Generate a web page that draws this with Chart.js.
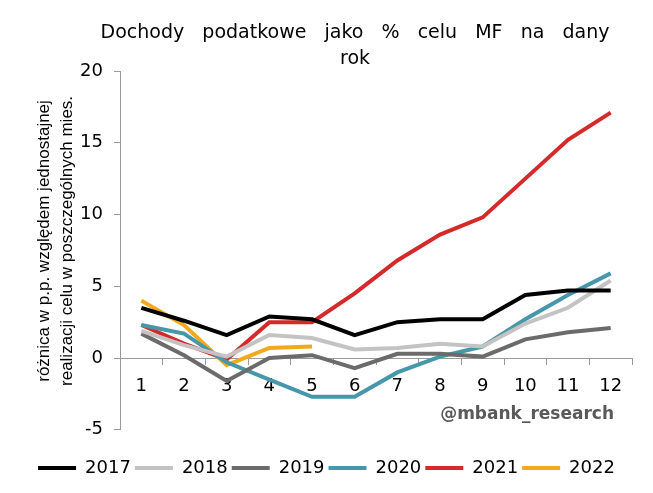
<!DOCTYPE html>
<html>
<head>
<meta charset="utf-8">
<script src="https://cdn.jsdelivr.net/npm/chart.js@4"></script>
<style>
  html, body { margin: 0; padding: 0; background: #fff; }
  #wrap { width: 653px; height: 493px; }
</style>
</head>
<body>
<div id="wrap"><canvas id="mainChart"></canvas></div>
<script>
// months 1..12
const months = ['1', '2', '3', '4', '5', '6', '7', '8', '9', '10', '11', '12'];

// p.p. difference vs uniform realisation of the MF target
const y2017 = [3.5, 2.6, 1.6, 2.9, 2.7, 1.6, 2.5, 2.7, 2.7, 4.4, 4.7, 4.7];
const y2018 = [1.9, 0.9, 0.1, 1.6, 1.4, 0.6, 0.7, 1.0, 0.8, 2.4, 3.5, 5.4];
const y2019 = [1.7, 0.2, -1.6, 0.0, 0.2, -0.7, 0.3, 0.3, 0.1, 1.3, 1.8, 2.1];
const y2020 = [2.3, 1.7, -0.3, -1.5, -2.7, -2.7, -1.0, 0.1, 0.8, 2.7, 4.4, 5.9];
const y2021 = [2.3, 1.0, -0.1, 2.5, 2.5, 4.5, 6.8, 8.6, 9.8, 12.5, 15.2, 17.1];
const y2022 = [4.0, 2.3, -0.5, 0.7, 0.8];

const yTicks = [-5, 0, 5, 10, 15, 20];

const seriesNames = ['2017', '2018', '2019', '2020', '2021', '2022'];
const seriesColors = ['#000000', '#c3c3c3', '#6b6b6b', '#4797aa', '#d42a2a', '#f4a81c'];
const seriesData = [y2017, y2018, y2019, y2020, y2021, y2022];

const titleLines = ['Dochody   podatkowe   jako   %   celu   MF   na   dany', 'rok'];

// title + watermark drawn by hand so they can sit where the original has them
const extras = {
    id: 'extras',
    afterDraw(chart) {
        const c = chart.ctx;
        c.save();
        c.fillStyle = '#000';
        c.font = '19px "DejaVu Sans"';
        c.textAlign = 'center';
        c.textBaseline = 'middle';
        c.fillText(titleLines[0], 355, 33);
        c.fillText(titleLines[1], 355, 59);

        c.font = 'bold 17px "DejaVu Sans"';
        c.fillStyle = '#595959';
        c.textAlign = 'right';
        c.textBaseline = 'alphabetic';
        c.fillText('@mbank_research', 614, 419);
        c.restore();
    }
};

const ctx = document.getElementById('mainChart');
new Chart(ctx, {
    type: 'line',
    data: {
        labels: months,
        datasets: seriesNames.map((name, i) => ({
            label: name,
            data: seriesData[i],
            borderColor: seriesColors[i],
            backgroundColor: seriesColors[i],
            borderWidth: 4,
            pointRadius: 0,
            tension: 0,
            fill: false
        }))
    },
    options: {
        responsive: true,
        maintainAspectRatio: false,
        animation: false,
        layout: { padding: { left: 21, right: 21, top: 71, bottom: 6 } },
        plugins: {
            tooltip: { enabled: false },
            title: { display: false },
            legend: {
                position: 'bottom',
                title: { display: true, text: '', font: { size: 1 }, padding: { top: 24, bottom: 0 } },
                labels: {
                    boxWidth: 38,
                    boxHeight: 4,
                    padding: 4,
                    color: '#000',
                    font: { family: '"DejaVu Sans"', size: 18 },
                    generateLabels(chart) {
                        const items = Chart.defaults.plugins.legend.labels.generateLabels(chart);
                        items.forEach(it => { it.lineWidth = 0; });
                        return items;
                    }
                }
            }
        },
        scales: {
            x: {
                type: 'category',
                position: { y: 0 },
                offset: true,
                border: { color: '#9a9a9a', width: 1 },
                grid: { drawOnChartArea: false, drawTicks: true, tickLength: 6, color: '#9a9a9a', offset: true },
                ticks: { color: '#000', padding: 11, maxRotation: 0, font: { family: '"DejaVu Sans"', size: 18 } }
            },
            y: {
                min: -5,
                max: 20,
                afterFit(scale) { scale.width = 99; },
                afterBuildTicks(scale) { scale.ticks = yTicks.map(v => ({ value: v })); },
                border: { color: '#9a9a9a', width: 1 },
                grid: { drawOnChartArea: false, drawTicks: true, tickLength: 6, color: '#9a9a9a' },
                ticks: { color: '#000', padding: 11, font: { family: '"DejaVu Sans"', size: 18 } },
                title: {
                    display: true,
                    text: ['    różnica w p.p. względem jednostajnej', '    realizacji celu w poszczególnych mies.'],
                    color: '#000',
                    font: { family: '"Liberation Sans"', size: 17, lineHeight: 1.35 },
                    padding: { top: 12, bottom: 0 }
                }
            }
        }
    },
    plugins: [extras]
});
</script>
</body>
</html>
